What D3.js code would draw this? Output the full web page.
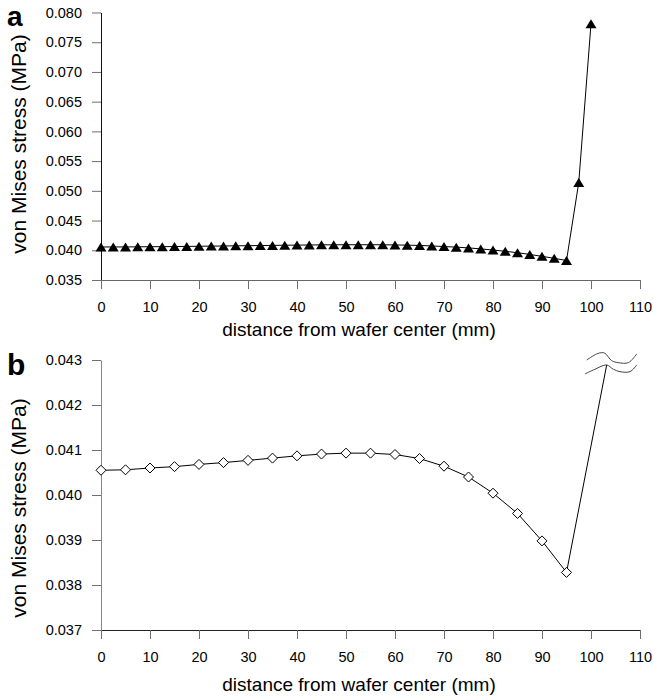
<!DOCTYPE html>
<html>
<head>
<meta charset="utf-8">
<script src="https://cdnjs.cloudflare.com/ajax/libs/d3/7.8.5/d3.min.js"></script>
<style>
	body { margin: 0; background: #fff; }
	svg { display: block; font-family: Arial, "Liberation Sans", sans-serif; }
</style>
</head>
<body>
<svg id="chart" width="653" height="698"></svg>
<script>
// panel a : every 2.5 mm
var distA = [0, 2.5, 5, 7.5, 10, 12.5, 15, 17.5, 20, 22.5, 25, 27.5, 30, 32.5, 35, 37.5, 40,
	42.5, 45, 47.5, 50, 52.5, 55, 57.5, 60, 62.5, 65, 67.5, 70, 72.5, 75, 77.5, 80, 82.5,
	85, 87.5, 90, 92.5, 95, 97.5, 100];
var stressA = [0.04055, 0.04056, 0.04056, 0.04058, 0.0406, 0.04061, 0.04063, 0.04065,
	0.04068, 0.0407, 0.04072, 0.04075, 0.04077, 0.0408, 0.04082, 0.04085, 0.04087,
	0.04089, 0.04091, 0.04092, 0.04093, 0.04093, 0.04093, 0.04092, 0.0409, 0.04086,
	0.04081, 0.04073, 0.04063, 0.04053, 0.0404, 0.04023, 0.04004, 0.03983, 0.03959,
	0.0393, 0.03898, 0.03865, 0.03828, 0.0514, 0.0781];

// panel b : every 5 mm, the last value is off scale (axis break)
var distB = [0, 5, 10, 15, 20, 25, 30, 35, 40, 45, 50, 55, 60, 65, 70, 75, 80, 85, 90, 95];
var stressB = [0.04055, 0.04056, 0.0406, 0.04063, 0.04068, 0.04072, 0.04077, 0.04082,
	0.04087, 0.04091, 0.04093, 0.04093, 0.0409, 0.04081, 0.04064, 0.0404, 0.04004,
	0.03959, 0.03898, 0.03828];
var breakB = [103.2, 0.04289];

var xTicks = [0, 10, 20, 30, 40, 50, 60, 70, 80, 90, 100, 110];
var yTicksA = [0.035, 0.040, 0.045, 0.050, 0.055, 0.060, 0.065, 0.070, 0.075, 0.080];
var yTicksB = [0.037, 0.038, 0.039, 0.040, 0.041, 0.042, 0.043];

var xTitle = 'distance from wafer center (mm)';
var yTitle = 'von Mises stress (MPa)';

(function() {
	'use strict';

	var svg = d3.select('#chart');
	var left = 101, right = 640;

	var x = d3.scaleLinear().domain([0, 110]).range([left, right]);

	function panel(cfg) {
		var y = d3.scaleLinear().domain(cfg.domain).range([cfg.bottom, cfg.top]);
		var g = svg.append('g');

		// axes
		var ya = g.append('g')
			.attr('transform', 'translate(' + left + ',0)')
			.call(d3.axisLeft(y).tickValues(cfg.yTicks).tickFormat(d3.format('.3f'))
				.tickSize(9).tickSizeOuter(0).tickPadding(10));
		ya.select('.domain').attr('stroke', cfg.yAxisColor);

		var xa = g.append('g')
			.attr('transform', 'translate(0,' + cfg.bottom + ')')
			.call(d3.axisBottom(x).tickValues(xTicks).tickFormat(d3.format('d'))
				.tickSize(9).tickSizeOuter(0).tickPadding(13));
		xa.select('.domain').attr('stroke', cfg.xAxisColor);

		g.selectAll('.tick line').attr('stroke', '#6e6e6e');
		g.selectAll('.tick text').attr('font-size', 14.5).attr('fill', '#000')
			.attr('font-family', 'Arial, "Liberation Sans", sans-serif');

		// titles
		g.append('text')
			.attr('x', 359).attr('y', cfg.bottom + cfg.xTitleGap)
			.attr('text-anchor', 'middle').attr('font-size', 19)
			.text(xTitle);

		g.append('text')
			.attr('transform', 'translate(26,' + cfg.yTitleMid + ') rotate(-90)')
			.attr('text-anchor', 'middle').attr('font-size', 21)
			.text(yTitle);

		g.append('text')
			.attr('x', 7).attr('y', cfg.letterY)
			.attr('font-size', cfg.letterSize).attr('font-weight', 'bold')
			.text(cfg.letter);

		return {g: g, y: y};
	}

	// ---- panel a
	var pa = panel({
		domain: [0.035, 0.080], top: 12.5, bottom: 280,
		yTicks: yTicksA, yAxisColor: '#111', xAxisColor: '#666',
		yTitleMid: 144, xTitleGap: 56, letter: 'a', letterY: 26, letterSize: 28
	});

	var ptsA = distA.map(function(d, i) { return [d, stressA[i]]; });

	pa.g.append('path')
		.datum(ptsA)
		.attr('fill', 'none').attr('stroke', '#000').attr('stroke-width', 1)
		.attr('d', d3.line().x(function(d) { return x(d[0]); }).y(function(d) { return pa.y(d[1]); }));

	pa.g.selectAll('.tri').data(ptsA).enter().append('path')
		.attr('class', 'tri')
		.attr('d', 'M0,-4.5L5.5,4.5L-5.5,4.5Z')
		.attr('fill', '#000')
		.attr('transform', function(d) { return 'translate(' + x(d[0]) + ',' + pa.y(d[1]) + ')'; });

	// ---- panel b
	var pb = panel({
		domain: [0.037, 0.043], top: 360, bottom: 630,
		yTicks: yTicksB, yAxisColor: '#888', xAxisColor: '#222',
		yTitleMid: 508, xTitleGap: 61, letter: 'b', letterY: 375, letterSize: 30
	});

	var ptsB = distB.map(function(d, i) { return [d, stressB[i]]; });

	pb.g.append('path')
		.datum(ptsB.concat([breakB]))
		.attr('fill', 'none').attr('stroke', '#000').attr('stroke-width', 1)
		.attr('d', d3.line().x(function(d) { return x(d[0]); }).y(function(d) { return pb.y(d[1]); }));

	pb.g.selectAll('.dia').data(ptsB).enter().append('path')
		.attr('class', 'dia')
		.attr('d', 'M0,-5L5,0L0,5L-5,0Z')
		.attr('fill', '#fff').attr('stroke', '#000').attr('stroke-width', 1)
		.attr('transform', function(d) { return 'translate(' + x(d[0]) + ',' + pb.y(d[1]) + ')'; });

	// axis break glyph, two wavy strokes around the end of the line
	var bx = x(breakB[0]), by = pb.y(breakB[1]);
	var waves = [
		[[-20, -5], [-10, -11], [-5, -12.3], [-1.7, -11.7], [5, -4.3], [11.7, -2.3], [21.7, -2.3], [30, -11]],
		[[-21.7, 9], [-11.7, 4.3], [0, 0], [6.7, 4.3], [13.3, 6.7], [23.3, 6.7], [30, 0]]
	];
	var wave = d3.line()
		.x(function(d) { return bx + d[0]; })
		.y(function(d) { return by + d[1]; })
		.curve(d3.curveCatmullRom);

	pb.g.selectAll('.wave').data(waves).enter().append('path')
		.attr('class', 'wave')
		.attr('fill', 'none').attr('stroke', '#444').attr('stroke-width', 1)
		.attr('d', wave);
})();
</script>
</body>
</html>
